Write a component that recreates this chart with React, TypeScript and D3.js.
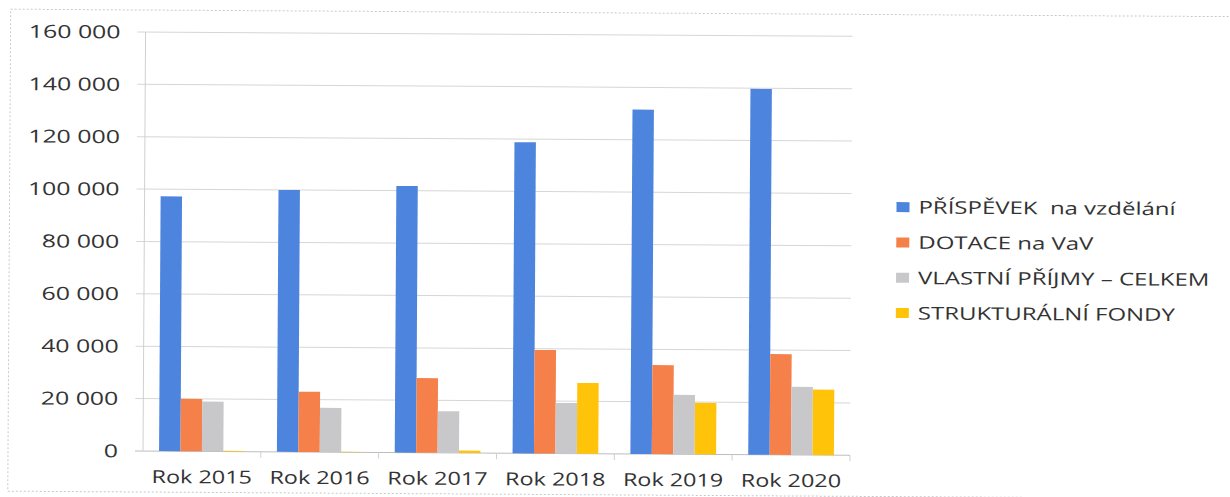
import React from "react";
import * as d3 from "d3";

const categories = ["Rok 2015", "Rok 2016", "Rok 2017", "Rok 2018", "Rok 2019", "Rok 2020"];
const seriesNames = [
  "PŘÍSPĚVEK  na vzdělání",
  "DOTACE na VaV",
  "VLASTNÍ PŘÍJMY – CELKEM",
  "STRUKTURÁLNÍ FONDY",
];
const prispevek = [97300, 100000, 101800, 118800, 131500, 139700];
const dotace = [20000, 23000, 28500, 39500, 34000, 38500];
const vlastni = [19000, 16900, 15900, 19300, 22700, 26000];
const strukturalni = [250, 150, 900, 27000, 19700, 25000];
const yTicks = [0, 20000, 40000, 60000, 80000, 100000, 120000, 140000, 160000];
const colors = ["#4d84de", "#f5804a", "#c8c8cb", "#ffc40a"];

const W = 1230;
const H = 497;
const left = 143;
const right = 850;
const top = 32;
const bottom = 451;
const textColor = "#333333";
const font = "'Open Sans', sans-serif";

export default function App() {
  const values = [prispevek, dotace, vlastni, strukturalni];
  const y = d3.scaleLinear().domain([0, 160000]).range([bottom, top]);
  const x0 = d3.scaleBand<string>().domain(categories).range([left, right]).padding(0);
  const step = x0.bandwidth();
  const barW = step / 5.5;
  const x1 = d3
    .scaleBand<number>()
    .domain(d3.range(seriesNames.length))
    .range([barW * 0.75, barW * 4.75])
    .padding(0);
  const fmt = (v: number) => d3.format(",")(v).replace(/,/g, " ");

  return (
    <svg
      width={W}
      height={H}
      style={{ position: "absolute", left: 0, top: 0, background: "#fff" }}
    >
      <g transform={`rotate(0.35 ${left} ${bottom})`}>
        <rect
          x={8}
          y={10}
          width={1240}
          height={482}
          fill="none"
          stroke="#c8c8c8"
          strokeDasharray="2,2"
        />
        {yTicks.map((t) => (
          <g key={t}>
            <line
              x1={left - 8}
              x2={right}
              y1={y(t)}
              y2={y(t)}
              stroke={t === 0 ? "#bdbdbd" : "#d6d6d6"}
              strokeWidth={1}
            />
            <text
              transform={`translate(118 ${y(t)}) scale(1.38 1)`}
              textAnchor="end"
              dy="0.36em"
              fontFamily={font}
              fontSize={18}
              fill={textColor}
            >
              {fmt(t)}
            </text>
          </g>
        ))}
        <line x1={left} x2={left} y1={top} y2={bottom} stroke="#d0d0d0" />
        {categories.map((c) => (
          <line
            key={"tk" + c}
            x1={(x0(c) as number) + step}
            x2={(x0(c) as number) + step}
            y1={bottom}
            y2={bottom + 6}
            stroke="#cfcfcf"
          />
        ))}
        {categories.map((c, i) => (
          <g key={c} transform={`translate(${x0(c)},0)`}>
            {values.map((arr, s) => (
              <rect
                key={s}
                x={x1(s)}
                y={y(arr[i])}
                width={x1.bandwidth()}
                height={bottom - y(arr[i])}
                fill={colors[s]}
              />
            ))}
            <text
              transform={`translate(${step / 2} 483) scale(1.3 1)`}
              textAnchor="middle"
              fontFamily={font}
              fontSize={18}
              fill={textColor}
            >
              {c}
            </text>
          </g>
        ))}
        {seriesNames.map((n, s) => (
          <g key={n} transform={`translate(895 ${202.5 + s * 35.3})`}>
            <rect x={0} y={-5} width={13} height={10} fill={colors[s]} />
            <text
              transform={`translate(22 0) scale(1.37 1)`}
              dy="0.36em"
              fontFamily={font}
              fontSize={17.5}
              fill={textColor}
              style={{ whiteSpace: "pre" }}
            >
              {n}
            </text>
          </g>
        ))}
      </g>
    </svg>
  );
}
